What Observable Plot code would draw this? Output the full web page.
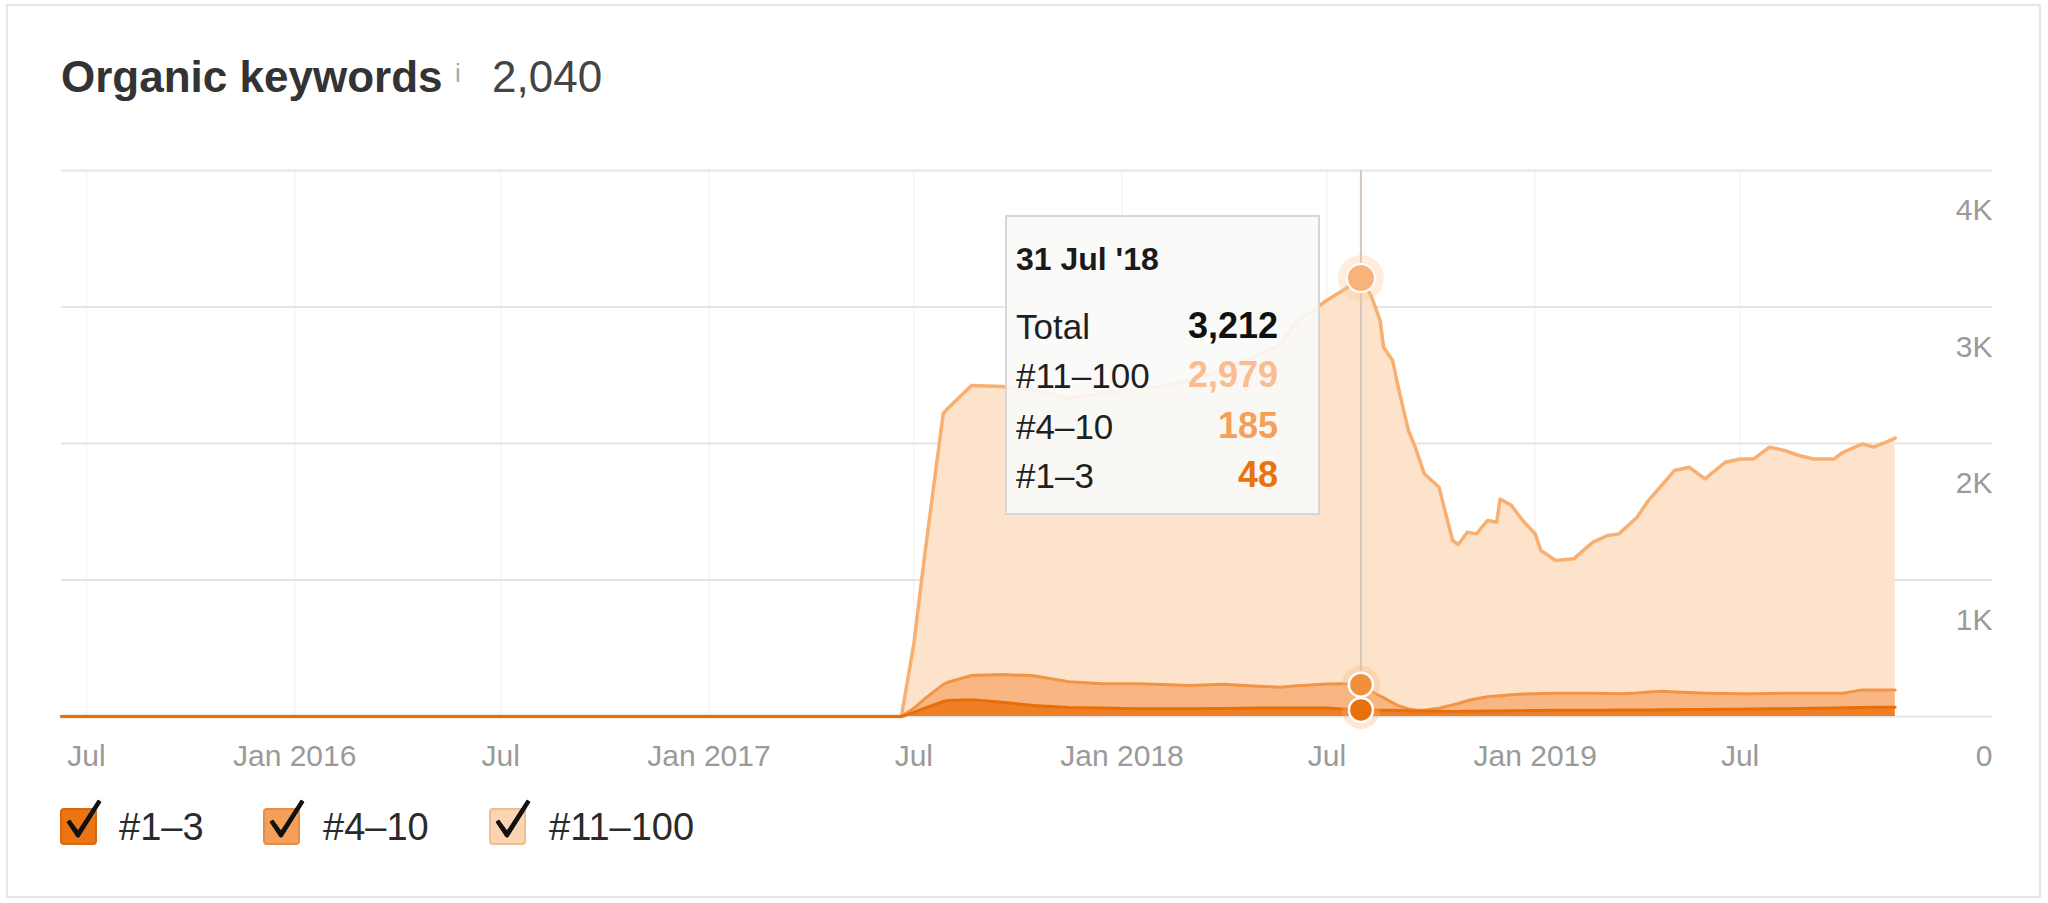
<!DOCTYPE html>
<html>
<head>
<meta charset="utf-8">
<script src="https://cdn.jsdelivr.net/npm/d3@7"></script>
<script src="https://cdn.jsdelivr.net/npm/@observablehq/plot@0.6"></script>
<style>
html,body{margin:0;padding:0;background:#fff;}
#page{position:relative;width:2048px;height:903px;overflow:hidden;font-family:"Liberation Sans",Arial,Helvetica,sans-serif;}
#card{position:absolute;left:6px;top:4px;width:2035px;height:894px;border:2px solid #e3e6ec;box-sizing:border-box;}
#chart{position:absolute;left:0;top:0;}
.t{position:absolute;line-height:1;white-space:nowrap;}
#tip{position:absolute;left:1005px;top:215px;width:315px;height:300px;box-sizing:border-box;border:2px solid #d6d6d6;background:rgba(250,249,248,0.9);}
.box{position:absolute;width:37px;height:37px;box-sizing:border-box;border-radius:4px;}
.chk{position:absolute;overflow:visible;}
</style>
</head>
<body>
<div id="page">
  <div id="card"></div>
  <div id="chart"></div>
  <div class="t" style="left:61px;top:55px;font-size:44px;font-weight:bold;color:#333;">Organic keywords</div>
  <div class="t" style="left:455px;top:60px;font-size:26px;color:#aaaaaa;">i</div>
  <div class="t" id="headline" style="left:492px;top:55px;font-size:44px;color:#444;"></div>
  <div id="tip"></div>
  <div id="legend"></div>
</div>
<script>
// ---- data ----
const dates = ["2015-06-09","2017-06-20","2017-07-01","2017-07-10","2017-07-27","2017-07-31","2017-08-21","2017-09-17","2017-10-15","2017-11-15",
"2017-12-15","2018-01-15","2018-02-05","2018-03-01","2018-04-01","2018-05-01","2018-05-20","2018-06-05","2018-06-20","2018-07-01",
"2018-07-15","2018-07-31","2018-08-09","2018-08-17","2018-08-20","2018-08-28","2018-09-02","2018-09-11","2018-09-17","2018-09-25",
"2018-10-08","2018-10-20","2018-10-25","2018-11-02","2018-11-10","2018-11-20","2018-11-28","2018-12-01","2018-12-11","2018-12-21",
"2019-01-01","2019-01-06","2019-01-19","2019-02-04","2019-02-21","2019-03-06","2019-03-16","2019-04-01","2019-04-11","2019-04-24",
"2019-05-04","2019-05-17","2019-05-31","2019-06-18","2019-07-01","2019-07-13","2019-07-27","2019-08-09","2019-08-22","2019-09-04",
"2019-09-22","2019-09-30","2019-10-17","2019-10-27","2019-11-07","2019-11-15"];
const k1_3 = [0,0,30,60,110,117,122,104,81,66,62,57,56,56,58,62,62,62,63,62,55,48,47,46,46,45,44,42,41,40,38,37,37,38,39,40,41,41,42,43,44,44,45,45,46,46,47,48,48,49,50,51,52,53,54,55,56,56,58,60,62,64,66,67,68,68];
const k4_10 = [0,0,30,65,125,134,178,204,217,189,178,183,179,172,178,160,153,163,169,176,185,185,138,104,92,55,36,13,7,5,22,48,58,77,91,105,109,111,118,122,123,124,125,126,124,122,120,124,132,136,130,124,119,115,113,111,112,114,112,110,108,107,129,128,127,127];
const k11_100 = [0,0,470,1018,1985,2005,2125,2109,2092,2075,2130,2160,2185,2232,2304,2428,2505,2675,2748,2812,2880,2979,2899,2751,2567,2508,2332,2040,1925,1733,1620,1204,1165,1235,1208,1291,1273,1442,1385,1271,1171,1048,973,984,1107,1158,1171,1288,1402,1520,1622,1651,1570,1695,1720,1721,1805,1779,1742,1717,1717,1765,1802,1778,1815,1845];
const seriesNames = ["#1–3","#4–10","#11–100"];
const xTicks = ["2015-07-01","2016-01-01","2016-07-01","2017-01-01","2017-07-01","2018-01-01","2018-07-01","2019-01-01","2019-07-01"];
const xTickLabels = ["Jul","Jan 2016","Jul","Jan 2017","Jul","Jan 2018","Jul","Jan 2019","Jul"];
const yTicks = [0,1000,2000,3000,4000];
const yTickLabels = ["0","1K","2K","3K","4K"];
const xDomain = ["2015-06-09","2020-02-09"];
const hoverDate = "2018-07-31";
const hoverLabel = "31 Jul '18";

// ---- styles ----
const fills = {"#1–3":"#ee7f24","#4–10":"#f9b682","#11–100":"#fde3cb"};
const lines = {"#1–3":"#e76f0b","#4–10":"#f29444","#11–100":"#f8af70"};
const legendBox = {"#1–3":["#ea7512","#d36a12"],"#4–10":["#f5a05a","#e48f48"],"#11–100":["#fdd4b1","#efbd92"]};
const tipColor = {"#1–3":"#e8730f","#4–10":"#f4a05a","#11–100":"#fbbd8f"};

const parse = d3.utcParse("%Y-%m-%d");
const rows = dates.map((d,i)=>{
  const c13 = k1_3[i], c410 = k1_3[i]+k4_10[i], total = c410 + k11_100[i];
  return {date: parse(d), k13: k1_3[i], k410: k4_10[i], k11: k11_100[i], c13, c410, total};
});
const hoverRows = rows.filter(r => +r.date === +parse(hoverDate));
const xTickDates = xTicks.map(parse);
const xLabelMap = new Map(xTickDates.map((d,i)=>[+d, xTickLabels[i]]));
const yLabelMap = new Map(yTicks.map((d,i)=>[d, yTickLabels[i]]));

const chart = Plot.plot({
  width: 2048, height: 800,
  marginLeft: 61, marginRight: 56, marginTop: 170, marginBottom: 84,
  x: {type: "utc", domain: xDomain.map(parse)},
  y: {domain: [0, 4000]},
  style: {fontFamily: "'Liberation Sans', Arial, sans-serif", background: "transparent", overflow: "visible"},
  marks: [
    Plot.gridX(xTickDates, {stroke: "#f7f7f7", strokeOpacity: 1, strokeWidth: 2}),
    Plot.gridY(yTicks, {stroke: "#e4e4e4", strokeOpacity: 1, strokeWidth: 2}),
    Plot.areaY(rows, {x: "date", y1: 0, y2: "total", fill: fills["#11–100"]}),
    Plot.areaY(rows, {x: "date", y1: 0, y2: "c410", fill: fills["#4–10"]}),
    Plot.areaY(rows, {x: "date", y1: 0, y2: "c13", fill: fills["#1–3"]}),
    Plot.lineY(rows, {x: "date", y: "total", stroke: lines["#11–100"], strokeWidth: 3.5}),
    Plot.lineY(rows, {x: "date", y: "c410", stroke: lines["#4–10"], strokeWidth: 3}),
    Plot.lineY(rows, {x: "date", y: "c13", stroke: lines["#1–3"], strokeWidth: 3}),
    Plot.ruleX(hoverRows, {x: "date", y1: 0, y2: 4000, stroke: "#d4c6ba", strokeWidth: 2}),
    Plot.dot(hoverRows, {x: "date", y: "total", r: 23, fill: "#fcc99c", fillOpacity: 0.35}),
    Plot.dot(hoverRows, {x: "date", y: "total", r: 14, fill: "#f9b277", stroke: "#fff", strokeWidth: 2}),
    Plot.dot(hoverRows, {x: "date", y: "c410", r: 19, fill: "#f7b27a", fillOpacity: 0.3}),
    Plot.dot(hoverRows, {x: "date", y: "c13", r: 19, fill: "#f7b27a", fillOpacity: 0.3}),
    Plot.dot(hoverRows, {x: "date", y: "c410", r: 12, fill: "#f0903c", stroke: "#fff", strokeWidth: 2.5}),
    Plot.dot(hoverRows, {x: "date", y: "c13", r: 12, fill: "#e8700c", stroke: "#fff", strokeWidth: 2.5}),
    Plot.axisX({ticks: xTickDates, tickSize: 0, tickPadding: 28, tickFormat: d => xLabelMap.get(+d), fontSize: 30, color: "#9a9a9a"}),
    Plot.axisY({anchor: "right", ticks: yTicks, tickSize: 0, tickPadding: 0, textAnchor: "end", dy: 40, tickFormat: d => yLabelMap.get(d), fontSize: 30, color: "#9a9a9a"})
  ]
});
document.getElementById("chart").appendChild(chart);

// headline = latest total
const fmt = d3.format(",");
document.getElementById("headline").textContent = fmt(rows[rows.length-1].total);

// tooltip
const h = hoverRows[0];
const tip = document.getElementById("tip");
const tipRows = [
  ["Total", h.total, "#111"],
  ["#11–100", h.k11, tipColor["#11–100"]],
  ["#4–10", h.k410, tipColor["#4–10"]],
  ["#1–3", h.k13, tipColor["#1–3"]]
];
let html = `<div class="t" style="left:9px;top:26px;font-size:32px;font-weight:bold;color:#1a1a1a;">${hoverLabel}</div>`;
const tops = [92, 141, 192, 241];
tipRows.forEach((r,i)=>{
  html += `<div class="t" style="left:9px;top:${tops[i]}px;font-size:35px;color:#1f1f1f;">${r[0]}</div>`;
  html += `<div class="t" style="right:40px;top:${tops[i]-1}px;font-size:36px;font-weight:bold;color:${r[2]};">${fmt(r[1])}</div>`;
});
tip.innerHTML = html;

// legend
const legend = document.getElementById("legend");
const boxLeft = [60, 263, 489];
const textLeft = [119, 323, 549];
let lh = "";
seriesNames.forEach((s,i)=>{
  const [bg, bd] = legendBox[s];
  lh += `<div class="box" style="left:${boxLeft[i]}px;top:808px;background:${bg};border:2px solid ${bd};"></div>`;
  lh += `<svg class="chk" style="left:${boxLeft[i]}px;top:797px;" width="46" height="50" viewBox="0 0 46 50"><path d="M7 25 L10 23 L18 34 L38 3 L41 5 L19 40 L17 40 Z" fill="#111" stroke="#111" stroke-width="1" stroke-linejoin="round"/></svg>`;
  lh += `<div class="t" style="left:${textLeft[i]}px;top:808px;font-size:38px;color:#2a2a2a;">${s}</div>`;
});
legend.innerHTML = lh;
</script>
</body>
</html>
